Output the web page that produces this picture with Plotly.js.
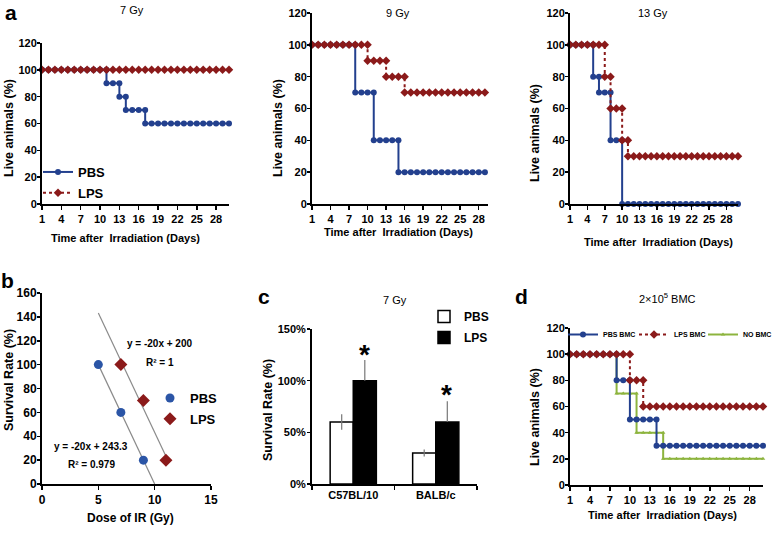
<!DOCTYPE html>
<html><head><meta charset="utf-8">
<script src="https://cdn.plot.ly/plotly-3.0.1.min.js"></script>
<style>html,body{margin:0;padding:0;background:#fff}#chart{width:777px;height:534px}</style>
</head><body><div id="chart"></div>
<script>
// ---------- DATA ----------
const tickDays = [1,4,7,10,13,16,19,22,25,28];

// panel a, 7 Gy
const a1PbsDays = [1,2,3,4,5,6,7,8,9,10,11,11,12,13,13,14,14,15,16,17,17,18,19,20,21,22,23,24,25,26,27,28,29,30];
const a1PbsVals = [100,100,100,100,100,100,100,100,100,100,100,90,90,90,80,80,70,70,70,70,60,60,60,60,60,60,60,60,60,60,60,60,60,60];
const a1LpsDays = [1,2,3,4,5,6,7,8,9,10,11,12,13,14,15,16,17,18,19,20,21,22,23,24,25,26,27,28,29,30];
const a1LpsVals = [100,100,100,100,100,100,100,100,100,100,100,100,100,100,100,100,100,100,100,100,100,100,100,100,100,100,100,100,100,100];

// panel a, 9 Gy
const a2PbsDays = [1,2,3,4,5,6,7,8,8,9,10,11,11,12,13,14,15,15,16,17,18,19,20,21,22,23,24,25,26,27,28,29];
const a2PbsVals = [100,100,100,100,100,100,100,100,70,70,70,70,40,40,40,40,40,20,20,20,20,20,20,20,20,20,20,20,20,20,20,20];
const a2LpsDays = [1,2,3,4,5,6,7,8,9,10,10,11,12,13,13,14,15,16,16,17,18,19,20,21,22,23,24,25,26,27,28,29];
const a2LpsVals = [100,100,100,100,100,100,100,100,100,100,90,90,90,90,80,80,80,80,70,70,70,70,70,70,70,70,70,70,70,70,70,70];

// panel a, 13 Gy
const a3PbsDays = [1,2,3,4,5,5,6,6,7,8,8,9,10,10,11,12,13,14,15,16,17,18,19,20,21,22,23,24,25,26,27,28,29,30];
const a3PbsVals = [100,100,100,100,100,80,80,70,70,70,40,40,40,0,0,0,0,0,0,0,0,0,0,0,0,0,0,0,0,0,0,0,0,0];
const a3LpsDays = [1,2,3,4,5,6,7,7,8,8,9,10,10,11,11,12,13,14,15,16,17,18,19,20,21,22,23,24,25,26,27,28,29,30];
const a3LpsVals = [100,100,100,100,100,100,100,80,80,60,60,60,40,40,30,30,30,30,30,30,30,30,30,30,30,30,30,30,30,30,30,30,30,30];

// panel b
const bPbsDose = [5,7,9];
const bPbsRate = [100,60,20];
const bLpsDose = [7,9,11];
const bLpsRate = [100,70,20];
const bPbsTrendX = [5,10];
const bPbsTrendY = [100,0];
const bLpsTrendX = [5,11];
const bLpsTrendY = [143.3,23.3];

// panel c
const cStrains = ['C57BL/10','BALB/c'];
const cPbs = [60,30];
const cPbsErr = [7.5,3.5];
const cLps = [100,60];
const cLpsErr = [20,20];
const cLpsErrMinus = [0,0];

// panel d
const dPbsDays = [1,2,3,4,5,6,7,8,8,9,10,10,11,12,13,14,14,15,16,17,18,19,20,21,22,23,24,25,26,27,28,29,30];
const dPbsVals = [100,100,100,100,100,100,100,100,80,80,80,50,50,50,50,50,30,30,30,30,30,30,30,30,30,30,30,30,30,30,30,30,30];
const dLpsDays = [1,2,3,4,5,6,7,8,9,10,10,11,12,12,13,14,15,16,17,18,19,20,21,22,23,24,25,26,27,28,29,30];
const dLpsVals = [100,100,100,100,100,100,100,100,100,100,80,80,80,60,60,60,60,60,60,60,60,60,60,60,60,60,60,60,60,60,60,60];
const dNoDays = [1,2,3,4,5,6,7,8,8,9,10,11,11,12,13,14,15,15,16,17,18,19,20,21,22,23,24,25,26,27,28,29,30];
const dNoVals = [100,100,100,100,100,100,100,100,70,70,70,70,40,40,40,40,40,20,20,20,20,20,20,20,20,20,20,20,20,20,20,20,20];

// ---------- STYLE ----------
const W = 777, H = 534;
const px = x => x / W, py = y => 1 - y / H;
const FONT = '"Liberation Sans", Arial, sans-serif';
const BLUE = '#23408e', RED = '#8b1a1a', GREEN = '#8db43e', BBLUE = '#2b55a6';

function stepTrace(x, y, xa, ya, color, dash, sym, size, name, legend, show, rank) {
  return {
    type: 'scatter', mode: 'lines+markers', x: x, y: y, xaxis: xa, yaxis: ya,
    line: {color: color, width: 2, dash: dash},
    marker: {color: color, symbol: sym, size: size},
    name: name, legend: legend, showlegend: show, legendgroup: name + legend,
    legendrank: rank, cliponaxis: false
  };
}

const traces = [
  stepTrace(a1PbsDays, a1PbsVals, 'x', 'y', BLUE, 'solid', 'circle', 6, 'PBS', 'legend', true, 1),
  stepTrace(a1LpsDays, a1LpsVals, 'x', 'y', RED, 'dot', 'diamond', 6.5, 'LPS', 'legend', true, 2),
  stepTrace(a2PbsDays, a2PbsVals, 'x2', 'y2', BLUE, 'solid', 'circle', 6, 'PBS', 'legend', false, 1),
  stepTrace(a2LpsDays, a2LpsVals, 'x2', 'y2', RED, 'dot', 'diamond', 6.5, 'LPS', 'legend', false, 2),
  stepTrace(a3PbsDays, a3PbsVals, 'x3', 'y3', BLUE, 'solid', 'circle', 6, 'PBS', 'legend', false, 1),
  stepTrace(a3LpsDays, a3LpsVals, 'x3', 'y3', RED, 'dot', 'diamond', 6.5, 'LPS', 'legend', false, 2),
  // b trendlines
  {type:'scatter', mode:'lines', x:bPbsTrendX, y:bPbsTrendY, xaxis:'x4', yaxis:'y4', line:{color:'#8a8a8a', width:1.2}, showlegend:false, cliponaxis:false},
  {type:'scatter', mode:'lines', x:bLpsTrendX, y:bLpsTrendY, xaxis:'x4', yaxis:'y4', line:{color:'#8a8a8a', width:1.2}, showlegend:false, cliponaxis:false},
  {type:'scatter', mode:'markers', x:bPbsDose, y:bPbsRate, xaxis:'x4', yaxis:'y4', name:'PBS', legend:'legend2', legendgroup:'bp',
   marker:{color:BBLUE, symbol:'circle', size:9}, cliponaxis:false},
  {type:'scatter', mode:'markers', x:bLpsDose, y:bLpsRate, xaxis:'x4', yaxis:'y4', name:'LPS', legend:'legend2', legendgroup:'bl',
   marker:{color:RED, symbol:'diamond', size:10}, cliponaxis:false},
  // c bars
  {type:'bar', x:cStrains, y:cPbs, xaxis:'x5', yaxis:'y5', name:'PBS', legend:'legend3', legendgroup:'cp',
   marker:{color:'#ffffff', line:{color:'#000', width:1.5}},
   error_y:{type:'data', array:cPbsErr, visible:true, color:'#777', thickness:1.2, width:0}},
  {type:'bar', x:cStrains, y:cLps, xaxis:'x5', yaxis:'y5', name:'LPS', legend:'legend3', legendgroup:'cl',
   marker:{color:'#000000', line:{color:'#000', width:1.5}},
   error_y:{type:'data', symmetric:false, array:cLpsErr, arrayminus:cLpsErrMinus, visible:true, color:'#777', thickness:1.2, width:0}},
  // d
  stepTrace(dNoDays, dNoVals, 'x6', 'y6', GREEN, 'solid', 'triangle-up', 4, 'NO BMC', 'legend6', true, 3),
  stepTrace(dPbsDays, dPbsVals, 'x6', 'y6', BLUE, 'solid', 'circle', 6, 'PBS BMC', 'legend4', true, 1),
  stepTrace(dLpsDays, dLpsVals, 'x6', 'y6', RED, 'dot', 'diamond', 6.5, 'LPS BMC', 'legend5', true, 2)
];

const tickFont = {family: FONT, size: 11, color: '#000', weight: 'bold'};
function axisBase(extra) {
  return Object.assign({
    showline: true, linecolor: '#000', linewidth: 2, ticks: 'outside', ticklen: 4, tickwidth: 1.5,
    tickcolor: '#000', showgrid: false, zeroline: false, tickfont: tickFont, fixedrange: true, automargin: false
  }, extra);
}
function dayAxis(d0, d1, range) {
  return axisBase({domain: [px(d0), px(d1)], range: range, tickmode: 'array', tickvals: tickDays, ticktext: tickDays.map(String)});
}
function pctAxis(y0, y1, anchor) {
  return axisBase({domain: [py(y1), py(y0)], range: [0, 120], dtick: 20, tick0: 0, anchor: anchor, ticklen: 3, ticklabelstandoff: -2});
}
function dLegend(x) {
  return {x: px(x), y: py(320), xanchor: 'left', yanchor: 'top', bgcolor: 'rgba(0,0,0,0)',
          font: {family: FONT, size: 7, weight: 'bold'}, itemwidth: 30};
}

const layout = {
  width: W, height: H, margin: {l: 0, r: 0, t: 0, b: 0, autoexpand: false},
  paper_bgcolor: '#fff', plot_bgcolor: 'rgba(0,0,0,0)',
  font: {family: FONT, color: '#000'},
  xaxis: Object.assign(dayAxis(42, 229, [1, 30]), {anchor: 'y'}),
  yaxis: pctAxis(43, 204, 'x'),
  xaxis2: Object.assign(dayAxis(312, 488, [1, 29.5]), {anchor: 'y2'}),
  yaxis2: pctAxis(13, 204, 'x2'),
  xaxis3: Object.assign(dayAxis(570, 738, [1, 30]), {anchor: 'y3'}),
  yaxis3: pctAxis(13, 204, 'x3'),
  xaxis4: axisBase({domain: [px(42), px(211)], range: [0, 15], dtick: 5, anchor: 'y4', tickfont: Object.assign({}, tickFont, {size: 12})}),
  yaxis4: axisBase({domain: [py(484), py(293)], range: [0, 160], dtick: 20, anchor: 'x4', ticklen: 3, ticklabelstandoff: -2,
                    tickfont: Object.assign({}, tickFont, {size: 12})}),
  xaxis5: axisBase({domain: [px(312), px(477)], type: 'category', tickson: 'boundaries', anchor: 'y5', range: [-0.5, 1.5]}),
  yaxis5: axisBase({domain: [py(484), py(329)], range: [0, 150], dtick: 50, ticksuffix: '%', anchor: 'x5', ticklen: 3, ticklabelstandoff: -1}),
  xaxis6: Object.assign(dayAxis(570, 763, [1, 30]), {anchor: 'y6'}),
  yaxis6: pctAxis(328, 485, 'x6'),
  barmode: 'group', bargap: 0.44, bargroupgap: 0,
  showlegend: true,
  legend: {x: px(38), y: py(157), xanchor: 'left', yanchor: 'top', bgcolor: 'rgba(0,0,0,0)',
           font: {family: FONT, size: 13, weight: 'bold'}, tracegroupgap: 1},
  legend2: {x: px(150), y: py(383), xanchor: 'left', yanchor: 'top', bgcolor: 'rgba(0,0,0,0)',
           font: {family: FONT, size: 13, weight: 'bold'}, tracegroupgap: 1},
  legend3: {x: px(424), y: py(302), xanchor: 'left', yanchor: 'top', bgcolor: 'rgba(0,0,0,0)',
           font: {family: FONT, size: 12, weight: 'bold'}, tracegroupgap: 2},
  legend4: dLegend(563),
  legend5: dLegend(634),
  legend6: dLegend(703),
  annotations: []
};

function ann(text, x, y, size, weight, extra) {
  return Object.assign({text: text, xref: 'paper', yref: 'paper', x: px(x), y: py(y), showarrow: false,
    xanchor: 'center', yanchor: 'middle', font: {family: FONT, size: size, color: '#000', weight: weight}}, extra || {});
}
const A = layout.annotations;
// panel letters
A.push(ann('a', 11, 12, 21, 'bold'));
A.push(ann('b', 7, 280, 21, 'bold'));
A.push(ann('c', 264, 296, 21, 'bold'));
A.push(ann('d', 521, 296, 21, 'bold'));
// titles
A.push(ann('7 Gy', 132, 10, 11, 'normal'));
A.push(ann('9 Gy', 398, 13, 11, 'normal'));
A.push(ann('13 Gy', 653, 13, 11, 'normal'));
A.push(ann('7 Gy', 395, 300, 11, 'normal'));
A.push(ann('2×10<sup>5</sup> BMC', 667, 298, 11, 'normal'));
// axis titles
const yT = 'Live animals (%)', xT = 'Time after  Irradiation (Days)';
A.push(ann(yT, 9, 128, 12.5, 'bold', {textangle: -90}));
A.push(ann(yT, 278, 128, 12.5, 'bold', {textangle: -90}));
A.push(ann(yT, 535, 133, 12.5, 'bold', {textangle: -90}));
A.push(ann(yT, 535, 417, 12.5, 'bold', {textangle: -90}));
A.push(ann('Survival Rate (%)', 9, 380, 12.5, 'bold', {textangle: -90}));
A.push(ann('Survival Rate (%)', 268, 410, 12.5, 'bold', {textangle: -90}));
A.push(ann(xT, 125, 238, 11, 'bold'));
A.push(ann(xT, 398, 232, 11, 'bold'));
A.push(ann(xT, 658, 242, 11, 'bold'));
A.push(ann(xT, 662, 515, 11, 'bold'));
A.push(ann('Dose of IR (Gy)', 130, 518, 12, 'bold'));
// b equations
function bann(text, x, y) {
  return {text: text, xref: 'x4', yref: 'y4', x: x, y: y, showarrow: false, xanchor: 'center', yanchor: 'middle',
          font: {family: FONT, size: 10, color: '#000', weight: 'bold'}};
}
A.push(bann('y = -20x + 200', 10.45, 118));
A.push(bann('R² = 1', 10.45, 102));
A.push(bann('y = -20x + 243.3', 4.35, 31));
A.push(bann('R² = 0.979', 4.35, 16));
// asterisks
function star(xref, yref, x, y, xs) {
  return {text: '*', xref: xref, yref: yref, x: x, y: y, showarrow: false, xanchor: 'center', yanchor: 'middle',
          xshift: xs || 0, yshift: -7, font: {family: FONT, size: 28, color: '#000', weight: 'bold'}};
}
A.push(star('x', 'y', 31.3, 100));
A.push(star('x2', 'y2', 30.6, 70));
A.push(star('x3', 'y3', 31.6, 30));
A.push(star('x6', 'y6', 30.8, 60));
A.push(star('x5', 'y5', 0, 132, 11));
A.push(star('x5', 'y5', 1, 93, 11));

Plotly.newPlot('chart', traces, layout, {displayModeBar: false, staticPlot: true});
</script>
</body></html>
